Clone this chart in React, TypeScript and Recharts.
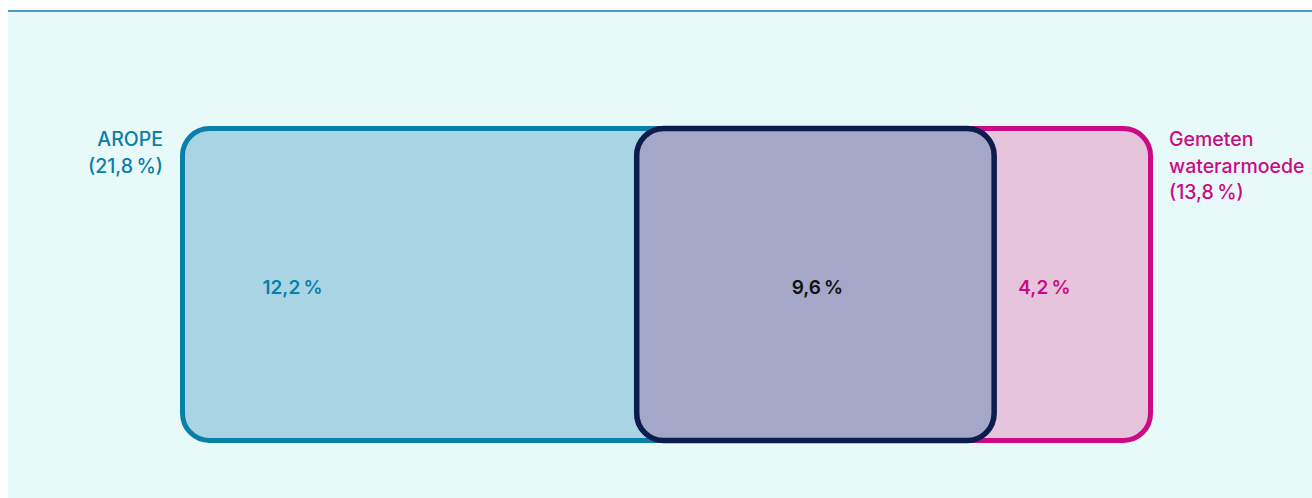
import { ComposedChart, XAxis, YAxis, ReferenceArea, Rectangle, Label, Scatter } from "recharts";

// Shares of the population (%)
const setNames = ["AROPE", "Gemeten waterarmoede"];
const setTotals = [21.8, 13.8];
const onlyShares = [12.2, 4.2];
const overlapShare = 9.6;
const setLabelLines = [
  ["AROPE"],
  ["Gemeten", "waterarmoede"],
];

const BLUE = "#0a7fa8";
const BLUE_FILL = "#a9d4e3";
const PINK = "#cc0a85";
const PINK_FILL = "#e6c4dc";
const NAVY = "#0c1c4e";
const NAVY_FILL = "#a4a7c7";
const FONT = "Inter, 'Noto Sans', sans-serif";

const fmt = (v: number) => `${v.toFixed(1).replace(".", ",")}\u202f%`;

// set A spans [0, A], set B starts where the overlap starts
const aStart = 0;
const aEnd = setTotals[0];
const bStart = onlyShares[0];
const bEnd = bStart + setTotals[1];

// corner points so the axes have something to measure
const extent = [
  { x: aStart, y: 0 },
  { x: bEnd, y: 1 },
];

const roundedBox = (radius: number) => (props: any) => <Rectangle {...props} radius={radius} />;

const sideLabel = (lines: string[], color: string, side: "left" | "right") => (props: any) => {
  const vb = props.viewBox;
  if (!vb) return null;
  const x = side === "left" ? vb.x - 19.5 : vb.x + vb.width + 18.5;
  return (
    <text
      x={x}
      y={vb.y + 17.5}
      fill={color}
      fontFamily={FONT}
      fontSize={19.5}
      fontWeight={500}
      textAnchor={side === "left" ? "end" : "start"}
    >
      {lines.map((l, i) => (
        <tspan key={i} x={x} dy={i === 0 ? 0 : 26.5}>
          {l}
        </tspan>
      ))}
    </text>
  );
};

const innerLabel = (text: string, color: string, pos: "left" | "center" | "right") => (props: any) => {
  const vb = props.viewBox;
  if (!vb) return null;
  const x = pos === "left" ? vb.x + 80 : pos === "right" ? vb.x + vb.width - 80 : vb.x + vb.width / 2 + 2;
  const anchor = pos === "left" ? "start" : pos === "right" ? "end" : "middle";
  return (
    <text
      x={x}
      y={vb.y + vb.height / 2 + 9.5}
      fill={color}
      fontFamily={FONT}
      fontSize={19}
      fontWeight={600}
      textAnchor={anchor}
    >
      {text}
    </text>
  );
};

export default function App() {
  return (
    <div style={{ position: "absolute", left: 8, top: 8, width: 1304, height: 490 }}>
      <div style={{ height: 2, background: "#ffffff" }} />
      <div style={{ height: 2, background: "#4a9dca" }} />
      <div style={{ height: 486, background: "#e8f9f9" }}>
        <ComposedChart
          width={1304}
          height={486}
          data={extent}
          margin={{ top: 116.5, right: 161.5, bottom: 57.5, left: 174.5 }}
        >
          <XAxis type="number" dataKey="x" domain={[aStart, bEnd]} allowDataOverflow hide />
          <YAxis type="number" dataKey="y" domain={[0, 1]} allowDataOverflow hide />
          <Scatter data={extent} dataKey="y" fill="none" shape={() => <g />} isAnimationActive={false} />
          <ReferenceArea
            x1={aStart}
            x2={aEnd}
            y1={0}
            y2={1}
            fill={BLUE_FILL}
            fillOpacity={1}
            stroke={BLUE}
            strokeWidth={5}
            shape={roundedBox(27)}
            ifOverflow="visible"
          >
            <Label content={sideLabel([...setLabelLines[0], `(${fmt(setTotals[0])})`], BLUE, "left")} />
          </ReferenceArea>
          <ReferenceArea
            x1={aStart}
            x2={bStart}
            y1={0}
            y2={1}
            fill="none"
            stroke="none"
            ifOverflow="visible"
          >
            <Label content={innerLabel(fmt(onlyShares[0]), BLUE, "left")} />
          </ReferenceArea>
          <ReferenceArea
            x1={bStart}
            x2={bEnd}
            y1={0}
            y2={1}
            fill={PINK_FILL}
            fillOpacity={1}
            stroke={PINK}
            strokeWidth={5}
            shape={roundedBox(27)}
            ifOverflow="visible"
          >
            <Label content={sideLabel([...setLabelLines[1], `(${fmt(setTotals[1])})`], PINK, "right")} />
            <Label content={innerLabel(fmt(onlyShares[1]), PINK, "right")} />
          </ReferenceArea>
          <ReferenceArea
            x1={bStart}
            x2={aEnd}
            y1={0}
            y2={1}
            fill={NAVY_FILL}
            fillOpacity={1}
            stroke={NAVY}
            strokeWidth={5.5}
            shape={roundedBox(27)}
            ifOverflow="visible"
            name={setNames.join(" & ")}
          >
            <Label content={innerLabel(fmt(overlapShare), "#111111", "center")} />
          </ReferenceArea>
        </ComposedChart>
      </div>
    </div>
  );
}
